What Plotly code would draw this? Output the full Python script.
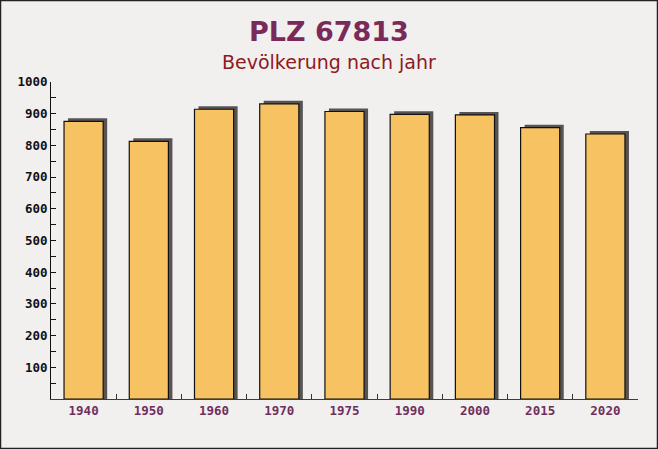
import plotly.graph_objects as go

years = ["1940", "1950", "1960", "1970", "1975", "1990", "2000", "2015", "2020"]
population = [876, 813, 914, 931, 907, 898, 896, 856, 836]
y_ticks = [100, 200, 300, 400, 500, 600, 700, 800, 900, 1000]

W, H = 658, 449
ml, mr, mt, mb = 51, 20, 82, 50
plot_h = H - mt - mb
plot_w = W - ml - mr
ymax = 1000
units_per_px = ymax / plot_h
cat_per_px = 1 / (plot_w / len(years))

bar_w = 0.6
shadow_dx = 4 * cat_per_px
shadow_dy = 3 * units_per_px

fig = go.Figure()
fig.add_trace(go.Bar(
    x=years, y=[v + shadow_dy for v in population],
    width=bar_w, offset=-bar_w / 2 + shadow_dx,
    marker=dict(color="#585454", line=dict(width=0)),
    hoverinfo="skip", showlegend=False,
))
fig.add_trace(go.Bar(
    x=years, y=population,
    width=bar_w, offset=-bar_w / 2,
    marker=dict(color="#f7c262", line=dict(color="#111111", width=1.2)),
    showlegend=False,
))

fig.update_layout(
    width=W, height=H,
    margin=dict(l=ml, r=mr, t=mt, b=mb, pad=0),
    barmode="overlay",
    paper_bgcolor="#f2efef",
    plot_bgcolor="rgba(0,0,0,0)",
    showlegend=False,
)
fig.update_xaxes(
    type="category",
    showline=True, linecolor="#5a2a48", linewidth=1,
    ticks="inside", tickson="boundaries", ticklen=5, tickcolor="#333333",
    tickfont=dict(family="DejaVu Sans Mono", size=12.5, color="#6e2f5c", weight="bold"),
    showgrid=False,
)
fig.update_yaxes(
    range=[0, ymax],
    tickvals=y_ticks,
    showline=True, linecolor="#111111", linewidth=1,
    ticks="inside", ticklen=5, tickcolor="#111111",
    minor=dict(ticks="inside", ticklen=5, dtick=50, tick0=50, tickcolor="#111111", showgrid=False),
    tickfont=dict(family="DejaVu Sans Mono", size=12.5, color="#111111", weight="bold"),
    showgrid=False, zeroline=False,
)

fig.add_annotation(
    text="<b>PLZ 67813</b>", xref="paper", yref="paper",
    x=0.5 + (329 - ml - plot_w / 2) / plot_w, y=1 + (mt - 31) / plot_h,
    xanchor="center", yanchor="middle", showarrow=False,
    font=dict(family="DejaVu Sans", size=27, color="#7a2a58"),
)
fig.add_annotation(
    text="Bevölkerung nach jahr", xref="paper", yref="paper",
    x=0.5 + (329 - ml - plot_w / 2) / plot_w, y=1 + (mt - 62) / plot_h,
    xanchor="center", yanchor="middle", showarrow=False,
    font=dict(family="DejaVu Sans", size=19, color="#8e1a22"),
)
fig.add_shape(
    type="rect", xref="paper", yref="paper",
    x0=-ml / plot_w + 0.5 / plot_w, x1=1 + (mr - 0.5) / plot_w,
    y0=-(mb - 0.5) / plot_h, y1=1 + (mt - 0.5) / plot_h,
    line=dict(color="#222222", width=1.5), fillcolor="rgba(0,0,0,0)", layer="above",
)

fig.write_html(
    "out.html",
    config={"displayModeBar": False},
    post_script="document.body.style.margin='0';document.body.style.padding='0';",
)
